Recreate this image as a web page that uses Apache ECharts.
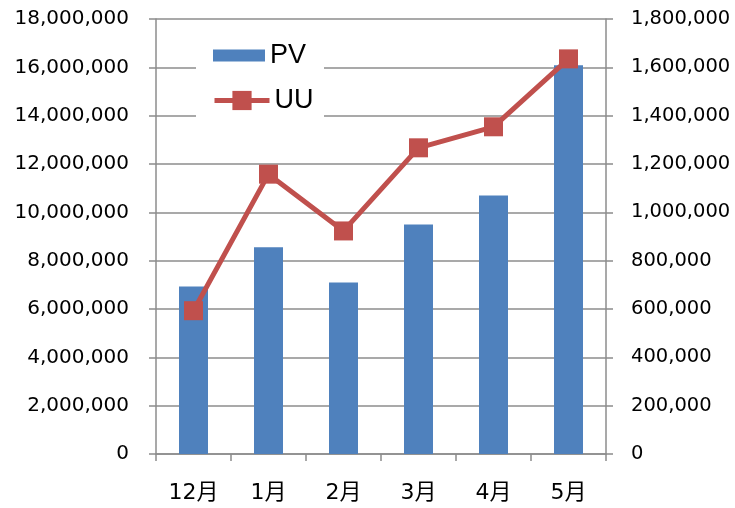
<!DOCTYPE html>
<html>
<head>
<meta charset="utf-8">
<script src="https://cdn.jsdelivr.net/npm/echarts@6/dist/echarts.min.js"></script>
<style>
    html, body { margin: 0; padding: 0; background: #fff; }
    #chart { width: 735px; height: 508px; }
</style>
</head>
<body>
<div id="chart"></div>
<script>
// 月份
var months = ['12月', '1月', '2月', '3月', '4月', '5月'];
// PV (左轴)
var pv = [6930000, 8560000, 7100000, 9500000, 10700000, 16090000];
// UU (右轴)
var uu = [593000, 1158000, 923000, 1267000, 1354000, 1635000];

var axisGray = '#8c8c8c';
var numFont = 'DejaVu Sans, Noto Sans CJK KR, sans-serif';

function fmt(v) {
    return Number(v).toLocaleString('en-US');
}

var chart = echarts.init(document.getElementById('chart'));
var option = {
    animation: false,
    backgroundColor: '#fff',
    grid: { left: 156, right: 129, top: 19, bottom: 54 },
    // 图例底色
    graphic: [{
        type: 'rect',
        z: 1,
        shape: { x: 196, y: 30, width: 128, height: 92 },
        style: { fill: '#fff' }
    }],
    legend: [{
        data: ['PV'],
        left: 213,
        top: 42,
        padding: 0,
        itemWidth: 52,
        itemHeight: 12,
        icon: 'rect',
        textStyle: { fontSize: 27, color: '#000', fontFamily: 'Liberation Sans' }
    }, {
        data: ['UU'],
        left: 212,
        top: 87,
        padding: 0,
        itemWidth: 55,
        itemHeight: 24,
        lineStyle: { width: 5 },
        textStyle: { fontSize: 27, color: '#000', fontFamily: 'Liberation Sans' }
    }],
    xAxis: {
        type: 'category',
        data: months,
        boundaryGap: true,
        axisLine: { lineStyle: { color: axisGray, width: 1.5 } },
        axisTick: { show: true, length: 7, lineStyle: { color: axisGray, width: 1.5 } },
        axisLabel: { fontSize: 22, color: '#000', margin: 28, fontFamily: numFont }
    },
    yAxis: [{
        type: 'value',
        min: 0,
        max: 18000000,
        interval: 2000000,
        axisLine: { show: true, lineStyle: { color: axisGray, width: 1.5 } },
        axisTick: { show: true, length: 7, lineStyle: { color: axisGray, width: 1.5 } },
        splitLine: { lineStyle: { color: axisGray, width: 1.5 } },
        axisLabel: { fontSize: 20, color: '#000', margin: 27, fontFamily: numFont, formatter: fmt }
    }, {
        type: 'value',
        min: 0,
        max: 1800000,
        interval: 200000,
        axisLine: { show: true, lineStyle: { color: axisGray, width: 1.5 } },
        axisTick: { show: true, length: 7, lineStyle: { color: axisGray, width: 1.5 } },
        splitLine: { show: false },
        axisLabel: { fontSize: 19.5, color: '#000', margin: 25, fontFamily: numFont, formatter: fmt }
    }],
    series: [{
        name: 'PV',
        type: 'bar',
        yAxisIndex: 0,
        barWidth: 29,
        itemStyle: { color: '#4F81BD' },
        data: pv
    }, {
        name: 'UU',
        type: 'line',
        yAxisIndex: 1,
        symbol: 'rect',
        symbolSize: 19,
        lineStyle: { color: '#C0504D', width: 5 },
        itemStyle: { color: '#C0504D' },
        data: uu
    }]
};
chart.setOption(option);
</script>
</body>
</html>
